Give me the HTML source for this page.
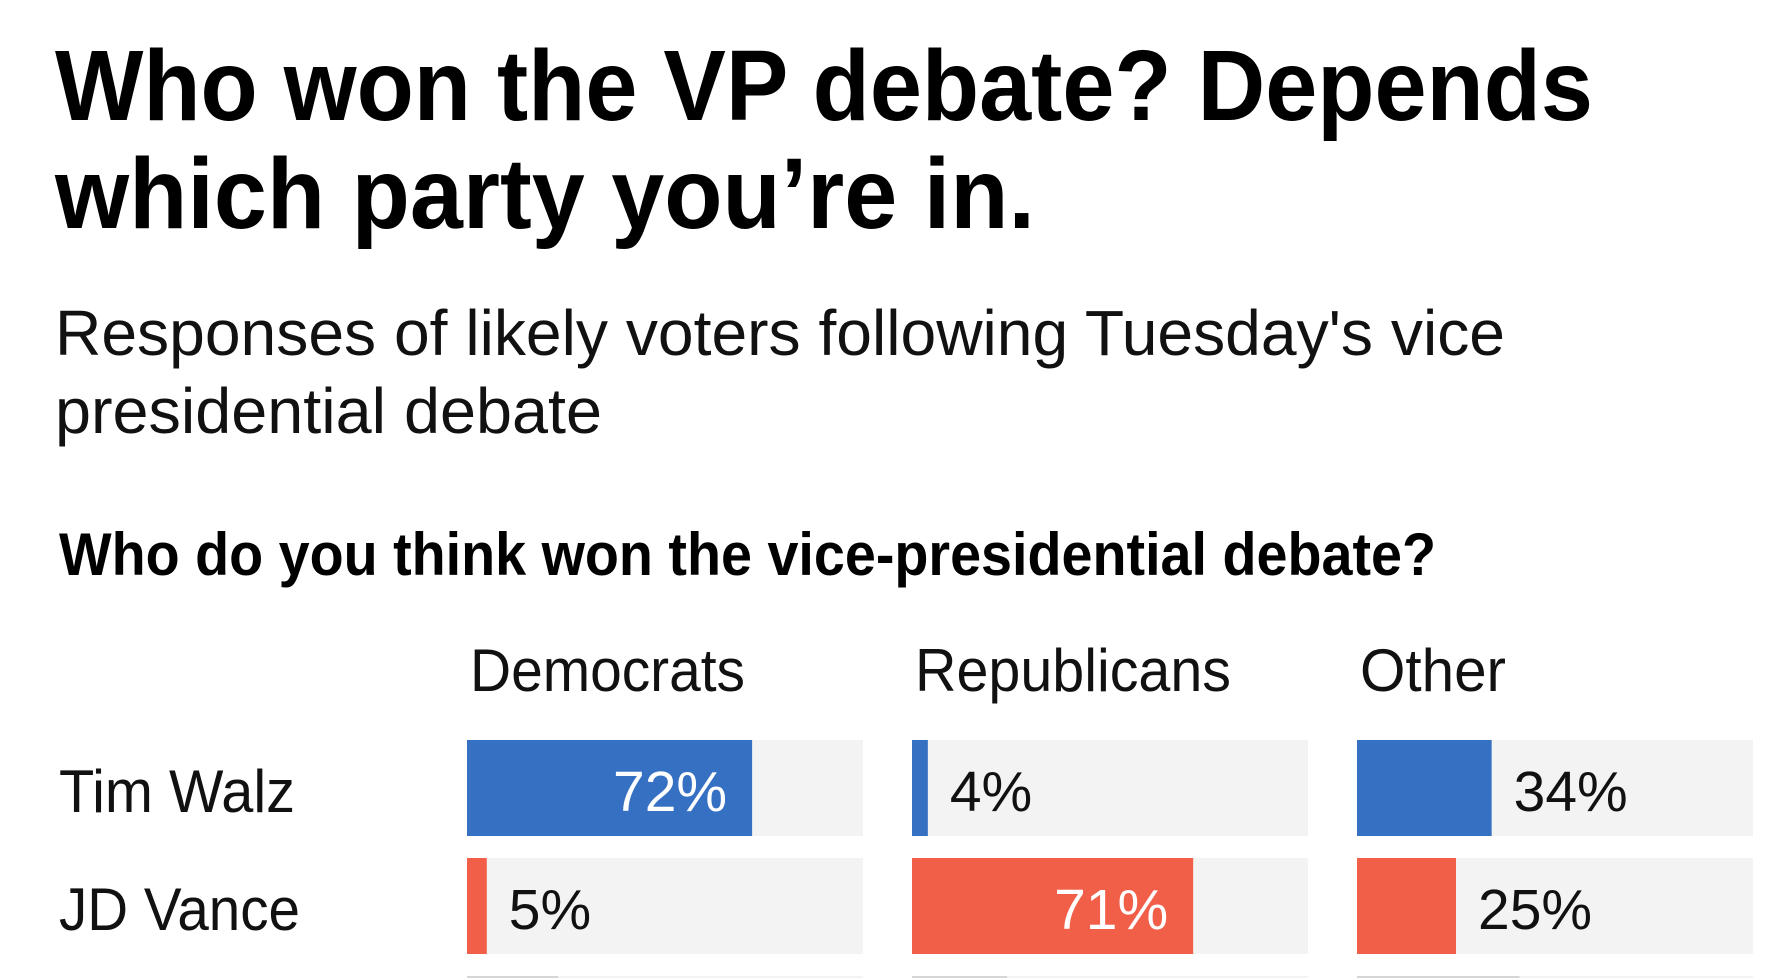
<!DOCTYPE html>
<html><head><meta charset="utf-8"><style>
html,body{margin:0;padding:0;background:#fff;width:1790px;height:978px;overflow:hidden}
svg{display:block;font-family:"Liberation Sans",sans-serif;overflow:hidden}
</style></head><body>
<svg id="chart" width="1790" height="978" viewBox="0 0 1790 978">
<text x="55" y="120" font-size="100" font-weight="bold" fill="#000" textLength="1538" lengthAdjust="spacingAndGlyphs">Who won the VP debate? Depends</text>
<text x="55" y="228" font-size="100" font-weight="bold" fill="#000" textLength="980" lengthAdjust="spacingAndGlyphs">which party you’re in.</text>
<text x="55" y="355" font-size="64" fill="#111" textLength="1450" lengthAdjust="spacingAndGlyphs">Responses of likely voters following Tuesday's vice</text>
<text x="55" y="433" font-size="64" fill="#111" textLength="547" lengthAdjust="spacingAndGlyphs">presidential debate</text>
<text x="59" y="575" font-size="60" font-weight="bold" fill="#000" textLength="1377" lengthAdjust="spacingAndGlyphs">Who do you think won the vice-presidential debate?</text>
<g id="plot"></g>
</svg>
<script>
const groups = ["Democrats", "Republicans", "Other"];
const answers = ["Tim Walz", "JD Vance", "Neither"];
const walzValues = [72, 4, 34];
const vanceValues = [5, 71, 25];
const neitherValues = [23, 24, 41];
const headerWidths = [275, 316, 146];
const labelWidths = [236, 241, 200];

const series = [walzValues, vanceValues, neitherValues];
const colors = ["#3570c2", "#f25f48", "#d6d6d6"];
const NS = "http://www.w3.org/2000/svg";
const plot = document.getElementById("plot");
const FRAME_H = 978;
const colX0 = 467, colW = 396, colGap = 49;
const rowY0 = 740, rowH = 96, rowPitch = 118;
function xCol(i){ return colX0 + i*(colW+colGap); }
function xScale(v){ return v/100*colW; }
function yRow(j){ return rowY0 + j*rowPitch; }
function mk(tag, attrs){ const e=document.createElementNS(NS,tag); for(const k in attrs) e.setAttribute(k,attrs[k]); plot.appendChild(e); return e; }

groups.forEach((g,i)=>{
  const t = mk("text",{x:xCol(i)+3,y:691,"font-size":60,fill:"#111",textLength:headerWidths[i],lengthAdjust:"spacingAndGlyphs"});
  t.textContent = g;
  
  
});
answers.forEach((a,j)=>{
  const y = yRow(j);
  const h = Math.max(0, Math.min(rowH, FRAME_H - y));
  const showText = y + 80 <= FRAME_H;
  if (showText) {
    const lbl = mk("text",{x:59,y:y+72,"font-size":60,fill:"#111",textLength:labelWidths[j],lengthAdjust:"spacingAndGlyphs"});
    lbl.textContent = a;
    
    
  }
  groups.forEach((g,i)=>{
    const x = xCol(i), v = series[j][i], w = xScale(v);
    const bg = mk("rect",{x:x,y:y,width:colW,height:h,fill:"#f3f3f3"});
    
    
    const bar = mk("rect",{x:x,y:y,width:w,height:h,fill:colors[j]});
    
    
    if (showText) {
      const inside = v >= 50;
      const tx = inside ? x + w - 25 : x + w + 22;
      const vt = mk("text",{x:tx,y:y+71,"font-size":57,fill:inside?"#fff":"#111","text-anchor":inside?"end":"start"});
      vt.textContent = v + "%";
      
      
    }
  });
});
</script>
</body></html>
